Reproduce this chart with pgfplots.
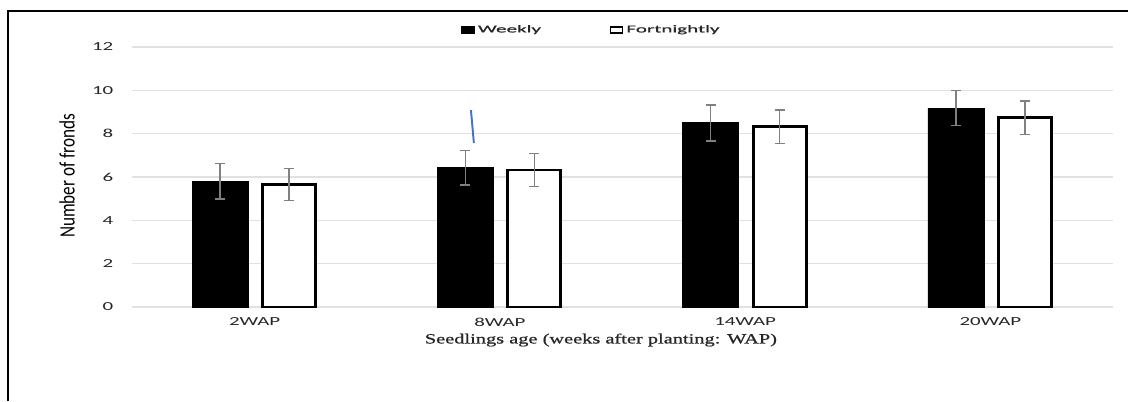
\documentclass[border=0pt]{standalone}
\usepackage{pgfplots}
\pgfplotsset{compat=1.18}
\usepackage{fontspec}
\setmainfont{Carlito}
\newfontfamily\tickfont[FakeStretch=1.7]{Carlito}
\newfontfamily\legfont[FakeStretch=2.0,FakeBold=1]{Carlito}
\newfontfamily\ylabfont[FakeStretch=0.78]{Carlito}
\newfontfamily\xlabfont[FakeStretch=1.45,FakeBold=0.8]{Liberation Serif}
\definecolor{gridgray}{RGB}{225,225,225}
\definecolor{errgray}{RGB}{128,128,128}
\definecolor{lineblue}{RGB}{68,114,196}
\begin{document}
\begin{tikzpicture}
\begin{axis}[
  scale only axis,
  width=19.62cm, height=5.2cm,
  ybar,
  xmin=-0.5, xmax=3.5, ymin=0, ymax=12,
  ytick={0,2,4,6,8,10,12},
  xtick={0,1,2,3},
  xticklabels={2WAP,8WAP,14WAP,20WAP},
  ymajorgrids, grid style={gridgray, line width=0.7pt},
  axis line style={draw=none},
  major tick length=0pt,
  /pgf/number format/assume math mode=true,
  ticklabel style={font=\tickfont\fontsize{7}{8}\selectfont, text=black!85},
  yticklabel style={anchor=east, xshift=-0.25cm},
  xticklabel style={anchor=center, yshift=-0.3cm},
  ylabel={\ylabfont\fontsize{12.5}{13}\selectfont Number of fronds},
  ylabel style={at={(rel axis cs:-0.0663,0.504)}, anchor=center},
  xlabel={\xlabfont\fontsize{8}{9}\selectfont Seedlings age (weeks after planting: WAP)},
  xlabel style={at={(rel axis cs:0.478,-0.127)}, anchor=center, text=black!85},
  clip=false,
  legend columns=2,
  legend style={at={(rel axis cs:0.469,1.065)}, anchor=center, draw=none, fill=none,
    font=\legfont\fontsize{6}{7}\selectfont, text=black!85,
    /tikz/every even column/.append style={column sep=1.3cm}},
  legend image code/.code={\draw[#1, line width=0.8pt] (0cm,-0.06cm) rectangle (0.24cm,0.06cm);},
  error bars/error bar style={errgray, line width=0.8pt},
  error bars/error mark options={errgray, line width=0.8pt, mark size=0.1cm, rotate=90},
]
\addplot[bar width=1.12cm, bar shift=-0.69cm, fill=black, draw=black,
  error bars/.cd, y dir=both, y explicit]
  coordinates {(0,5.8) +- (0,0.82) (1,6.43) +- (0,0.8) (2,8.5) +- (0,0.83) (3,9.18) +- (0,0.8)};
\addlegendentry{Weekly}
\addplot[bar width=1.06cm, bar shift=0.69cm, fill=white, draw=black, line width=1.6pt,
  error bars/.cd, y dir=both, y explicit]
  coordinates {(0,5.66) +- (0,0.74) (1,6.32) +- (0,0.76) (2,8.32) +- (0,0.77) (3,8.74) +- (0,0.77)};
\addlegendentry{Fortnightly}
\addplot[sharp plot, lineblue, line width=1.1pt, no markers, forget plot] coordinates {(0.882,9.09) (0.894,7.57)};
\coordinate (bl) at (rel axis cs:-0.13456,-0.36154);
\coordinate (tr) at (rel axis cs:1.01529,1.18077);
\coordinate (fl) at (rel axis cs:-0.1264,-0.36154);
\coordinate (ft) at (rel axis cs:-0.1264,1.13846);
\coordinate (fr) at (rel axis cs:1.01529,1.13846);
\end{axis}
\draw[black, line width=1.1pt] (fl) -- (ft) -- (fr);
\pgfresetboundingbox
\path[use as bounding box] (bl) rectangle (tr);
\end{tikzpicture}
\end{document}
